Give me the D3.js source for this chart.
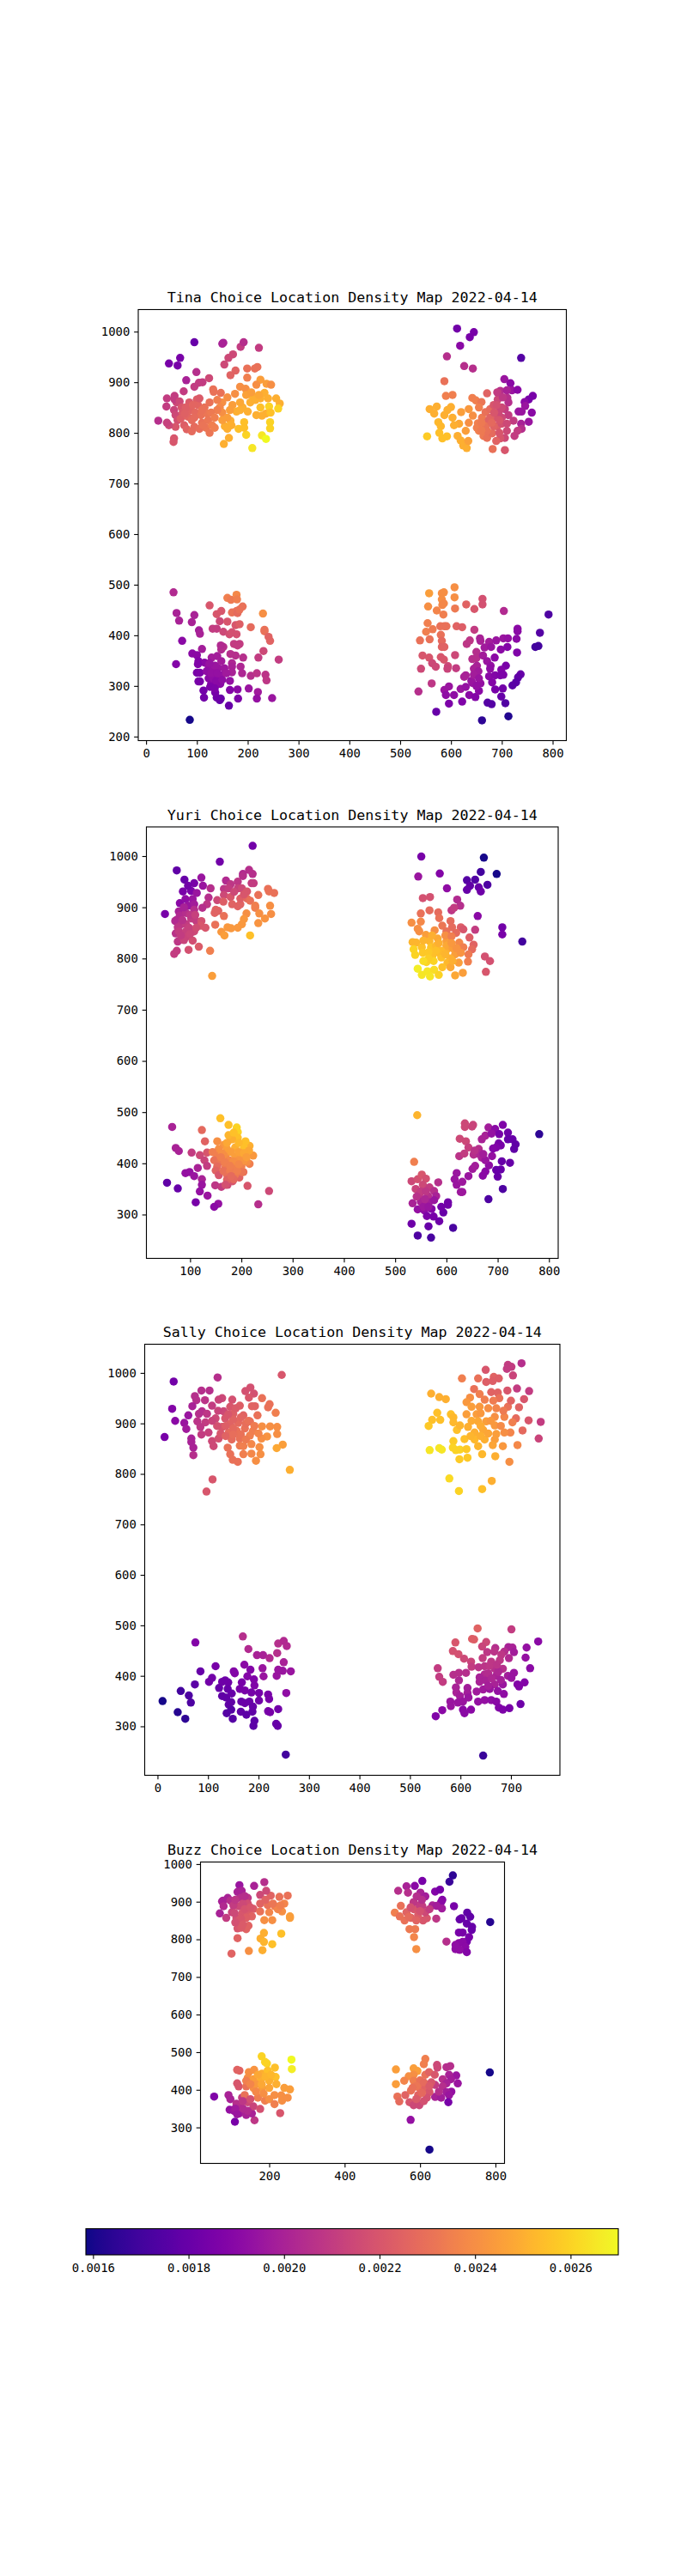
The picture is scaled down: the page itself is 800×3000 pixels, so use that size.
<!DOCTYPE html>
<html>
<head>
<meta charset="utf-8">
<script src="https://d3js.org/d3.v7.min.js"></script>
<style>
  body { margin: 0; background: #fff; }
  text { font-family: "DejaVu Sans Mono", monospace; fill: #000; }
</style>
</head>
<body>
<script>
// every point is [x, y, density * 1e4]
const tinaPoints = [
[24,824,20.5],[41,868,21],[40,852,21],[45,937,18.5],[62,933,18.5],[67,948,18.5],[95,979,18],[79,904,20],[99,920,20.5],[95,891,21],[104,899,21],[111,900,21],[124,908,21.5],[150,976,20],[152,978,20],[186,970,21],[192,979,20.5],[222,968,21],[171,955,21.5],[162,948,21.5],[154,935,21.5],[176,923,22.5],[166,914,22.5],[199,927,23],[214,927,23],[219,930,23],[199,909,23.5],[225,905,24.5],[217,895,24],[237,897,24.5],[246,895,24],[132,886,23],[133,881,23],[74,882,21],[56,873,21],
[55,845,21.3],[58,835,21.5],[62,825,21.7],[60,860,21.5],[56,866,21],[66,862,21.5],[70,850,22],[72,840,22.2],[68,828,22.3],[75,815,22.3],[58,812,22],[45,815,21.5],[41,820,21.2],[80,807,22.5],[85,860,22.2],[88,845,22.5],[82,832,22.6],[90,825,22.8],[95,812,22.8],[90,803,22.8],[100,866,22.3],[102,855,22.6],[97,840,22.7],[108,835,23],[110,820,23],[105,808,22.9],[115,850,23],[120,838,23.2],[122,825,23.2],[118,810,23.2],[125,800,23.2],[130,815,23.5],[135,810,23.5],[125,860,23],[105,868,22.2],[55,789,22],[54,782,22],
[147,879,23],[185,891,24],[196,887,24],[175,877,24],[210,872,25],[233,879,25],[256,868,25],[263,858,25],[260,848,26],[242,852,26],[217,835,25],[236,838,25],[228,834,25],[244,821,26],[244,809,26],[228,795,26.5],[236,788,27],[209,770,26.5],[197,796,26],[193,821,25.5],[193,810,25.5],[182,808,25.5],[163,790,25],[153,778,25],[155,813,25],[166,824,25],[150,860,24],[145,850,23.8],[150,840,24],[160,870,24],[170,855,24.5],[178,842,25],[190,850,25],[205,860,25],[215,865,25],[225,850,25.5],[160,830,24.5],[150,825,24.5],[140,845,23.5],
[78,850,22.3],[92,855,22.6],[110,845,23],[76,838,22.4],[95,830,22.8],[112,815,23.1],[128,840,23.3],[135,830,23.5],[140,865,23.5],[165,845,24.5],[185,860,24.8],[197,875,24.6],[225,868,25],[240,868,25],[245,840,25.5],[200,842,25],[168,815,25],[160,808,25],[185,845,25],[207,880,24.5],[222,875,24.8],
[612,1006,18.3],[645,999,18.5],[637,989,18.5],[618,972,19],[592,951,20.5],[626,932,20.5],[643,927,20.5],[738,948,17.5],[587,902,23],[705,906,19.5],[717,898,19],[720,884,19.5],[731,885,19],[761,873,18.5],[753,866,18.5],[745,861,19],[746,853,19.5],[733,842,19.5],[739,842,19.5],[759,840,19],[753,822,19.5],[738,818,20],[739,808,20.5],[731,804,21],[725,794,21],[723,824,21],
[590,873,23.5],[603,875,23.5],[671,878,22.5],[642,869,23.5],[649,864,23.5],[660,861,23.2],[655,850,23.5],[558,847,25],[572,852,25],[567,838,25],[600,851,25],[593,845,25],[587,835,25],[575,821,25.3],[580,813,25.3],[577,800,25.5],[553,793,25.8],[583,789,25.5],[592,793,25.5],[613,794,25],[619,785,25],[624,775,25],[631,770,25],[634,784,24.6],[620,841,24.5],[635,847,24.3],[643,834,24],[635,820,24],[603,830,25],[616,818,24.8],[629,804,24.5],[606,815,25],
[653,819,23.5],[661,830,23.3],[668,841,23],[677,847,22.8],[684,855,22],[692,866,21.5],[697,883,20.5],[691,880,21],[710,884,20],[711,869,20.5],[713,860,20.5],[706,847,21],[713,835,21],[700,830,21.5],[687,830,22],[674,824,22.5],[668,813,23],[655,804,23.5],[664,794,23.3],[671,790,23],[681,799,22.8],[691,813,22.3],[700,818,21.8],[710,818,21.5],[710,804,21.5],[706,790,21.5],[697,789,22],[689,784,22.5],[682,768,23],[706,766,22],[651,810,23.5],[671,804,23],[684,813,22.5],[694,841,21.5],[677,830,22.5],[685,840,22],[700,850,21.5],[660,820,23.3],[680,820,22.7],[695,800,22],[660,805,23.3],[695,825,22],[702,870,20.8],[690,855,21.8],
[54,485,20.3],[60,444,20],[65,429,20],[90,426,20],[95,440,20],[71,389,19],[59,343,18.8],[104,410,19.8],[106,403,20],[110,373,19.8],[91,364,19],[100,361,19],[103,349,18.8],[115,346,19],[102,343,18.7],[100,326,18.5],[106,326,18.6],[103,309,18.5],[106,309,18.5],[113,291,18.3],[114,277,18.3],[86,233,16],[163,261,18],[145,272,18],[147,275,18],[139,277,18.2],[136,287,18.4],
[123,340,19.3],[119,329,19.2],[123,315,19],[128,304,18.9],[132,298,18.7],[126,298,18.6],[142,304,18.9],[146,304,19],[139,318,19.2],[148,321,19.4],[142,335,19.5],[154,335,19.6],[148,349,19.8],[132,329,19.4],[132,315,19.2],[165,310,19.3],[165,292,18.8],[180,293,19],[181,275,18.6],[169,345,20.2],[169,338,20],[169,327,20],[186,338,20.2],[189,325,20.2],[191,356,20.5],[176,360,20.5],[166,363,20.5],[129,356,19.8],[140,359,19.8],[148,372,20.3],[152,377,20.5],[147,380,20.3],[173,383,21],[184,383,21],[180,380,21],[128,325,19.3],[138,310,19],[136,340,19.5],[150,312,19.2],[158,325,19.7],[125,345,19.4],[140,325,19.3],[135,295,18.6],
[202,295,19.5],[220,288,19.7],[218,275,19.3],[248,276,19.5],[206,320,20.5],[218,325,20.7],[235,322,20.7],[237,311,20.8],[221,356,21],[231,369,21.5],[261,352,21],[125,459,22],[139,442,22],[148,448,22],[145,428,21.5],[160,427,22],[131,413,21],[139,413,21],[152,407,21.5],[164,402,21.7],[169,406,21.8],[178,402,21.8],[176,420,22],[184,422,22.3],[206,416,22.8],[233,411,23],[233,408,23],[241,397,22.5],[244,389,22.5],[230,443,24],[160,474,23.5],[167,470,23.3],[178,480,23.8],[179,471,23.5],[169,445,23],[178,448,23],[180,444,22.8],[190,457,23],[184,451,23],
[557,483,24.5],[582,483,24],[586,485,24],[607,495,24],[607,475,24],[555,457,24],[582,471,24],[583,460,23.8],[586,463,23.8],[572,449,23.7],[585,441,23.5],[608,453,23.3],[630,461,22.5],[646,452,22],[662,472,21.8],[662,461,21.8],[704,448,20.3],[554,424,23.5],[551,407,23.5],[564,412,23.3],[579,418,23],[587,418,23],[591,418,23],[611,418,22.5],[622,416,22.3],[646,411,21],[580,401,23],[539,390,23],[558,392,23],[582,389,22.7],[582,377,22.5],[587,377,22.5],[544,360,22],[557,356,22],[580,357,22],[586,352,22],[608,361,21.5],[541,334,21.5],[563,345,21.5],[570,338,21.5],[594,339,21.5],[593,334,21.3],[610,335,21],[562,305,20.8],[536,289,20.5],
[631,383,20.8],[637,390,20.8],[657,394,20],[658,389,20],[675,387,19.8],[689,390,19.5],[703,394,19.5],[712,394,19.3],[729,393,19],[731,413,19],[731,408,19],[666,376,19.7],[679,377,19.5],[698,372,19],[711,377,18.8],[730,366,18.7],[650,367,20.5],[642,353,20.5],[650,355,20.5],[663,360,19.8],[671,349,19.5],[686,356,19],[678,340,19.3],[677,334,19.2],[708,340,18.5],[699,332,18.7],[626,318,20],[629,321,20],[645,334,20],[651,340,20],[654,329,19.7],[675,319,19],[687,321,18.8],[697,321,18.6],[703,322,18.6],[737,323,18],[732,317,17.8],[728,307,17.6],[721,301,17.6],[642,306,19.5],[658,305,19.3],[681,307,18.8],[687,293,18.5],[702,295,18.3],[587,292,19.5],[596,299,19.5],[619,294,19.5],[629,298,19.3],[590,282,19.2],[606,282,19.2],[636,282,19],[648,278,18.8],[655,290,19],[699,279,18],[596,265,18.6],[622,269,18.7],[672,267,17.5],[680,264,17.5],[707,266,17.4],[571,249,18],[661,232,16.5],[713,240,16.2],[775,405,17.5],[792,441,17.3],[766,377,17],[772,379,17],[640,310,19.5],[650,300,19.3],[645,322,19.8],[655,315,19.5]
];

const yuriPoints = [
[222,1020,18.3],[158,989,18.3],[74,972,17.8],[89,954,18],[122,958,19.5],[108,947,18.5],[125,942,19.5],[86,931,18.5],[102,932,18.6],[96,942,18.3],[113,928,19.5],[140,937,20.5],[51,887,18.5],[80,908,19],[91,916,19.2],[105,916,19.5],[96,903,19.5],[108,906,19.8],[136,919,20.5],[133,906,20.8],[124,899,20.5],[153,914,21.5],[78,892,20],[73,875,20.5],[80,884,20.3],[92,889,20.5],[108,895,20.5],[71,873,20.3],[83,867,20.8],[102,878,21],[112,873,21],[92,867,21],[76,861,20.8],[72,849,20.6],[78,853,21],[92,853,21.2],[108,853,21.5],[122,873,21.8],[121,864,22],[130,860,22],[92,842,21.3],[76,833,20.8],[88,836,21.3],[105,835,21.7],[117,823,22.2],[97,817,21.8],[74,815,21],[69,809,21],[149,866,23],[150,895,22.5],[155,893,22.5],[148,889,22.5],[166,883,23],[139,815,23.5],[143,766,24.5],[85,875,20.6],[98,860,21.2],[100,885,20.8],[88,900,20],[110,885,21.2],[112,860,21.6],[82,845,21],[100,848,21.4],
[170,952,20.3],[179,945,20.8],[166,936,20.8],[175,937,21],[193,950,20.8],[193,937,21.2],[201,937,21.5],[215,973,20.5],[203,965,20.3],[203,961,20.5],[222,965,20.5],[220,947,21],[224,947,21],[211,931,22],[166,924,21.5],[179,920,22],[165,911,22.3],[182,906,22.5],[193,902,22.5],[198,906,22.5],[198,917,22.3],[211,917,22.7],[217,913,23],[227,903,23.5],[227,899,23.5],[233,924,23],[252,936,23],[254,931,23],[264,928,23],[256,903,24],[258,887,24],[235,888,24],[210,888,24],[246,878,24.2],[233,869,24.2],[205,877,24.3],[201,867,24.3],[193,860,24.3],[180,859,24.3],[173,861,24.3],[161,852,24.3],[167,845,24.5],[217,845,25.5],[205,925,22],[186,930,21.5],
[551,999,18.5],[673,997,16],[545,960,19.5],[587,966,18.8],[667,969,17],[698,965,16],[640,953,17.5],[656,954,17.4],[680,944,17.3],[601,937,19.2],[646,942,17.8],[640,934,18],[663,939,18],[667,931,18.2],[554,918,21.8],[568,920,21.8],[621,915,20.3],[627,903,20.5],[610,894,20.8],[615,899,21],[661,883,19],[709,861,18.3],[709,847,18.5],[748,833,17],[550,888,23],[567,894,22.8],[584,890,22.8],[586,879,23],[550,872,23.8],[532,870,24],[544,858,24],[547,853,24],[577,855,24],[560,846,24.5],[592,864,23.2],[608,873,22.8],[611,861,22.8],[628,861,22.3],[633,857,22],[656,856,21],[645,841,22.3],[600,853,23],[619,850,22.8],[534,832,25.2],[541,831,25.2],[567,834,25.2],[583,839,24.8],[600,834,24.5],[625,831,23.8],[653,827,22.5],[650,818,22.8],[643,808,23.3],[633,822,23.5],[675,804,21.8],[685,795,21.8],[677,774,22],[642,794,23.5],[632,772,24.5],[617,767,24.8],[624,792,24.5],[617,808,24.5],[628,811,24.2],
[536,818,26],[539,807,26],[552,822,25.5],[554,811,25.7],[570,822,25.6],[573,806,25.5],[586,811,25.3],[600,817,25],[608,800,25],[602,792,25.3],[592,783,25.5],[608,783,24.8],[561,793,26],[544,780,26.7],[552,768,26.5],[563,775,26.5],[568,765,26.5],[576,778,26.3],[585,768,26],[555,835,25.2],[565,812,25.7],[580,825,25.3],[590,802,25.5],[575,795,26],[600,825,24.8],[612,820,24.5],[590,815,25.3],[580,815,25.5],[565,800,25.9],[555,795,26.3],[598,845,24],[610,843,23.5],[585,830,25],[572,845,25],[610,830,24.3],[620,820,24.2],[598,808,25.2],[612,795,25],
[65,471,20],[72,430,20],[78,424,20],[103,421,21],[123,465,22.7],[129,443,22.5],[133,421,22],[119,416,21.5],[128,406,21.3],[133,395,21],[115,391,20],[91,381,19.3],[99,383,19.3],[108,375,19.5],[123,369,20],[123,358,19.5],[119,345,19.3],[134,337,19.5],[111,324,18.5],[155,321,19.3],[147,315,19],[55,362,17.8],[76,351,18],[233,320,20.5],[254,346,21.5],[212,356,22],[149,357,20.8],[161,354,21],[173,358,21.5],[183,365,22],[196,372,22.5],[204,383,23],[216,399,23.5],[223,415,24.3],[216,434,25],[208,443,25.5],[191,470,26],[193,461,26],[175,475,25.5],[159,488,25.5],
[153,443,24],[166,436,24.3],[179,447,25],[193,450,25.5],[205,431,25.5],[188,431,25],[172,428,24.5],[156,428,24],[144,422,23.5],[153,414,23.5],[169,414,24],[188,413,24.5],[201,414,24.5],[147,406,23],[160,403,23.2],[176,406,23.8],[195,406,24.2],[211,403,24],[153,394,22.8],[169,392,23.3],[185,394,23.6],[200,394,23.6],[150,386,22.5],[156,377,22],[172,378,23],[188,378,23.3],[201,383,23.2],[172,368,22.5],[185,369,22.7],[169,358,21.8],[182,447,25],[175,455,25.2],[185,460,25.5],[195,440,25.3],[215,425,24.8],[162,420,24],[180,422,24.5],[195,422,24.6],[205,405,24.2],[165,385,23],[178,385,23.4],[192,385,23.5],[160,412,23.5],[168,402,23.5],[185,404,24],[178,395,23.5],[195,398,23.8],[180,375,22.8],[172,440,24.8],[205,420,24.8],[210,412,24.5],
[543,494,25.2],[537,403,23.5],[584,363,20.5],[532,365,21.5],[544,369,21.8],[552,378,22],[560,370,21.8],[540,350,21.3],[554,358,21.5],[567,353,21],[576,346,20.5],[547,339,20.8],[564,336,20.5],[580,336,20],[534,322,20],[550,325,20],[566,324,19.8],[576,328,19.5],[544,310,19.3],[557,308,19.2],[571,311,18.8],[562,297,18.6],[575,296,18.5],[532,282,18.2],[565,277,18],[586,287,18.2],[544,259,17.3],[570,255,17.2],[613,274,17.2],[594,304,18],[590,315,18.3],[603,324,18.3],[603,319,18.3],[550,345,21],[560,345,20.8],[542,335,20.6],[555,315,19.6],[565,315,19.5],[558,330,20.2],
[620,381,19.5],[616,369,19.5],[620,358,19.5],[631,364,19.6],[628,344,19.6],[631,344,19.6],[643,375,19.5],[651,389,19.7],[656,395,19.8],[671,376,19],[676,384,19],[683,396,19.2],[700,374,18],[697,387,18],[706,388,18],[708,404,18],[724,401,18],[710,350,17.3],[682,330,17.3],[781,457,16.5],[625,414,20.7],[626,448,21.5],[638,443,21.5],[643,431,21.2],[635,419,21],[653,417,20.5],[663,428,20.5],[659,419,20.5],[669,411,20],[676,406,19.5],[689,414,19.3],[636,478,21.5],[636,471,21.5],[650,472,21.3],[652,475,21.3],[669,447,20],[676,454,20],[682,470,19.8],[695,467,19],[710,475,18.7],[703,457,18.5],[720,460,18.2],[720,447,18],[729,447,18],[735,437,17.8],[732,428,17.8],[702,439,18.5],[706,435,18.5],[697,431,18.7],[691,429,18.8],[665,420,20.2],[672,418,19.8],[655,425,20.6],[688,458,19.3]
];

const sallyPoints = [
[32,983,18.3],[119,991,20.5],[246,996,22],[87,965,20.5],[103,965,20.5],[74,954,20.5],[77,946,20.5],[94,946,20.7],[29,929,18.8],[69,934,20],[35,905,19],[61,916,19.5],[53,901,19.5],[57,889,19.7],[14,873,18.5],[67,870,20],[67,863,20],[71,852,20],[71,837,20.5],[108,865,21.5],[111,855,21.5],[97,765,22],[109,789,22],[262,808,25],[248,858,24.5],[236,851,24.8],[237,893,24],[223,894,24],[237,879,24],[207,894,24],[217,874,24.2],[206,870,24],[234,921,23.5],[222,938,23],[219,932,23],[207,950,23],[193,934,22.5],[187,934,22.5],[198,916,23],[174,964,21.8],[184,971,21.8],[191,959,21.8],[181,951,22],[148,947,21.8],[128,950,21.5],[121,947,21.3],[108,935,21],[88,924,20.5],[82,919,20.5],[98,919,20.8],[79,904,20.7],[95,902,21],[85,893,20.8],[87,878,21],[101,882,21.2],[121,870,21.8],[115,910,21.5],[131,924,21.5],[144,933,22],[163,935,22.3],[134,910,22],[150,919,22.3],[170,916,22.5],[183,904,23],[128,893,22],[144,899,22.5],[160,901,22.7],[141,882,22.8],[157,885,23],[173,890,23],[189,885,23.5],[147,868,22.8],[163,870,23],[183,876,23.5],[139,852,23],[144,839,23],[149,828,23],[159,824,23],[170,839,23.5],[163,856,23.3],[186,859,23.8],[186,840,23.8],[202,853,24],[204,839,24],[195,826,24],
[118,895,21.8],[125,880,22],[135,895,22.3],[150,908,22.5],[165,912,22.6],[175,900,22.9],[150,890,22.7],[165,878,23],[175,868,23.3],[135,875,22.5],[108,905,21.3],[150,878,22.9],[170,855,23.5],[180,905,23],[192,895,23.4],[200,880,23.7],[120,925,21.3],[140,918,22],[155,930,22.2],
[721,1019,20.5],[694,1016,21],[701,1012,21],[692,1008,21],[650,1006,22],[704,995,21.3],[603,989,23.5],[635,989,23],[666,992,22.5],[676,989,22.3],[651,982,22.3],[664,984,22.3],[627,968,23],[712,969,21],[736,964,21],[693,965,22],[661,962,22.5],[674,961,22.5],[542,959,25],[558,952,25],[571,948,25],[619,951,24],[612,942,24.3],[638,958,23.5],[648,947,23.5],[677,950,23],[726,948,22],[554,921,25.5],[581,918,25.5],[586,912,25.3],[544,907,25.5],[560,907,25.5],[537,895,25.7],[586,902,25.3],[593,887,25.5],[599,896,25.2],[615,893,25],[612,918,24.5],[622,933,24.5],[638,933,24.3],[632,918,24.5],[655,930,24],[671,930,23.7],[694,933,23],[716,932,22.5],[710,910,22.8],[735,906,22],[759,903,21],[755,870,21.3],[723,886,22.7],[699,882,23.7],[687,882,24],[668,913,24],[687,913,23.7],[703,902,23.5],[651,904,24.5],[635,904,24.8],[668,896,24.3],[645,887,24.8],[628,882,25],[671,879,24.5],[648,868,25],[668,868,24.5],[628,868,25.3],[635,855,25.2],[608,869,25.5],[586,865,25.8],[585,852,26],[591,847,26],[539,847,26.5],[558,851,26.5],[563,848,26.5],[599,848,26],[612,849,25.7],[598,829,25.8],[614,832,25.7],[643,839,25.3],[669,835,25],[664,857,24.7],[684,855,24.3],[713,857,23.8],[697,824,24],[578,791,26.2],[597,766,26],[643,770,25.5],[662,786,25],[622,905,24.9],[640,895,24.9],[655,880,24.7],[660,905,24.3],[680,895,23.9],[640,875,25],[620,875,25.2],[640,920,24.3],[665,945,23.4],[685,925,23.3],[700,945,22.5],
[75,466,18.8],[10,350,16],[40,328,16.3],[55,315,16.5],[46,370,17],[62,361,17.3],[66,347,17.3],[74,383,17.7],[85,409,18],[102,388,18.3],[108,396,18.3],[115,419,18.5],[122,376,18],[128,388,18.2],[134,391,18.2],[140,387,18.2],[139,374,18],[128,360,17.8],[136,357,17.8],[147,365,18],[141,343,17.8],[146,348,17.8],[137,326,17.5],[146,333,17.5],[149,315,17.5],[166,349,18],[173,346,18.1],[182,349,18.1],[165,329,17.8],[176,323,17.7],[188,329,17.8],[189,339,18],[192,311,17.7],[190,301,17.7],[235,305,18],[238,301,18],[239,334,18.3],[223,328,18.5],[219,330,18.5],[201,351,18.3],[201,366,18.4],[219,363,18.5],[221,354,18.5],[186,367,18.4],[167,387,18.5],[163,374,18.5],[173,371,18.5],[192,381,18.7],[191,393,18.7],[178,399,18.8],[184,412,18.8],[172,422,19],[153,405,18.8],[151,409,18.8],[208,415,19.5],[210,399,19.5],[236,400,19.5],[248,410,19.5],[264,409,19.5],[239,412,19.5],[250,427,20],[255,366,19.2],[209,441,20],[197,441,20],[222,435,20.3],[237,445,20.5],[180,453,20.3],[169,478,20.5],[239,464,20.5],[250,469,20.3],[256,459,20.3],[254,244,17],
[634,494,22.5],[701,492,21],[623,473,22.3],[627,472,22.3],[590,466,22],[585,449,21.8],[596,443,21.8],[607,434,21.5],[651,467,21.5],[643,458,21.3],[621,428,21.3],[622,418,21],[644,435,21],[653,447,20.8],[669,455,20.5],[667,448,20.7],[695,457,20],[703,456,20],[687,448,20.5],[706,447,19.8],[696,435,20.3],[681,442,20.8],[731,456,19.3],[729,436,19.3],[754,468,19],[738,415,19],[555,415,21],[558,398,21],[565,388,21],[586,402,20.5],[597,406,20.5],[611,406,20.5],[636,417,20.7],[648,419,20.7],[661,428,20.8],[678,431,20.8],[684,414,20.5],[668,414,20.5],[648,403,20.3],[638,397,20],[671,400,20],[694,400,19.8],[706,406,19.5],[701,396,19.5],[638,388,20],[651,391,20],[668,383,20],[684,383,19.5],[591,377,20],[597,391,20.2],[592,367,20],[599,360,19.8],[614,376,19.8],[614,366,19.8],[632,369,19.7],[645,373,19.7],[658,374,19.5],[674,370,19.3],[686,364,19.2],[713,383,18.8],[716,379,18.8],[727,387,18.8],[580,349,19.5],[581,340,19.5],[595,347,19.5],[605,349,19.5],[616,357,19.5],[635,349,19.3],[648,352,19.3],[661,352,19.2],[671,349,19],[676,337,18.8],[684,333,18.6],[697,336,18.5],[719,344,18.2],[564,332,19],[551,320,18.7],[605,333,19],[608,326,19],[621,333,19],[645,242,16.8],[655,405,20.4],[662,395,20.2],[675,408,20.2],[658,420,20.8],[672,422,20.7],[680,392,19.9],[655,380,19.9]
];

const buzzPoints = [
[121,944,19.5],[187,952,20.5],[160,942,20],[69,869,20],[75,901,20],[90,910,20],[78,903,20],[79,888,20.3],[97,903,20.5],[116,926,20],[127,929,20],[124,910,20.5],[143,910,20.8],[86,857,21],[101,872,21.3],[120,888,21.5],[143,895,21.7],[113,857,21.7],[128,869,22],[143,872,22.2],[158,881,22.2],[154,861,22.5],[120,850,22],[139,857,22.3],[116,829,22],[139,827,22.5],[145,836,22.5],[126,831,22.2],[116,803,22.5],[100,762,22.5],[146,769,24],[182,771,25],[177,802,25],[186,793,25.2],[186,817,25],[208,787,25.5],[232,815,25.5],[187,851,24],[208,851,24],[255,861,24.5],[255,857,24.5],[234,874,24],[200,872,23.7],[176,874,23],[176,895,22.5],[196,891,23],[215,888,23.5],[223,880,23.7],[240,895,23.7],[227,913,23],[249,916,23],[204,916,22.5],[176,918,21.5],[192,929,21.5],[105,890,21],[110,905,20.8],[130,895,21.5],[135,880,21.9],[150,885,22],[108,870,21.5],[125,855,22],[130,840,22.2],[110,845,21.8],[135,915,20.5],[210,895,23.2],[230,890,23.5],[190,905,22.5],
[687,970,16.5],[678,953,16.8],[606,955,18.5],[564,941,20],[586,942,19],[542,929,20.5],[568,924,20.5],[601,924,20],[614,914,19.8],[640,927,18.8],[653,932,18.5],[659,905,18.8],[656,899,19],[690,888,18.5],[658,882,19.7],[633,890,20],[644,889,19.8],[643,855,20.8],[618,856,22],[608,850,22],[670,794,20.5],[725,871,17.8],[733,860,17.8],[705,853,18],[710,856,18],[724,842,18],[738,833,18],[737,825,18],[786,846,16.3],[703,818,18.5],[713,818,18.5],[730,806,18.5],[724,794,18.5],[703,790,19],[713,793,19],[720,780,19],[694,774,19.2],[705,772,19.2],[724,766,18.8],[694,785,19.2],[533,871,23.5],[549,889,23],[546,861,23],[559,850,23],[572,827,23.3],[587,827,23.3],[584,806,23.7],[590,774,24],[564,872,22.5],[576,857,22.5],[583,880,22],[595,865,22.2],[599,891,21],[583,899,20.8],[591,914,20.5],[606,888,21],[614,872,21.5],[625,880,21],[570,860,22.8],[590,850,22.5],[600,875,21.8],[575,885,21.8],[605,905,20.5],
[54,382,18.7],[109,315,18.5],[161,319,20.8],[92,386,20],[97,375,20],[95,347,19.3],[107,344,19.5],[120,337,19.8],[154,337,20],[139,333,20],[113,363,20.5],[128,379,21],[143,367,21.5],[158,356,21.3],[176,349,21.8],[124,356,20.5],[143,344,20.3],[115,453,22.5],[121,451,22.5],[115,417,22],[119,409,22],[139,409,23],[135,386,23],[146,447,24],[160,453,24.2],[143,432,24],[158,428,24.5],[139,424,23.5],[158,405,24],[177,424,25],[181,443,25],[180,489,26],[189,474,26],[194,470,26],[196,451,25.5],[215,459,25.5],[217,434,25.5],[219,415,25],[200,424,25],[200,405,24.7],[181,405,24.5],[170,379,23.5],[189,371,23.5],[200,375,24],[214,386,24],[214,362,23.5],[234,371,24],[232,385,24],[240,405,24.5],[255,401,24.5],[249,379,24],[229,338,22],[259,480,27],[260,455,26.7],[165,415,24.3],[150,415,23.7],[165,395,23.8],[185,390,24],[130,350,20.3],[110,350,19.7],[115,335,19.5],[130,370,20.8],[150,375,21.8],[190,435,25.2],[205,440,25.3],[170,440,24.8],[180,415,24.8],
[536,454,24.5],[536,415,24.5],[540,382,23],[545,369,22.8],[614,482,23.5],[610,468,23.5],[583,457,24.5],[593,450,24.5],[583,440,24],[570,436,24],[558,424,23.7],[583,424,23.5],[614,440,23],[624,447,22.5],[639,440,22],[645,466,21.5],[646,459,21.5],[670,460,20.5],[680,463,20.5],[696,438,19.5],[677,440,20],[700,417,19.5],[682,428,19.8],[660,428,20.5],[640,413,21],[670,417,20],[660,409,20.5],[683,395,19.3],[670,394,19.8],[640,381,20],[656,379,19.8],[677,386,19.5],[675,367,18.5],[561,386,22.5],[576,398,23],[598,405,23],[614,405,22.5],[625,394,22],[618,379,21.8],[595,386,22.5],[572,367,22],[583,359,21.5],[598,359,21.5],[575,320,19.3],[625,241,16],[785,446,16],[600,425,23],[590,410,23.2],[610,420,22.8],[630,420,22],[580,405,23],[605,392,22.7],[590,375,22.2],[610,370,21.8],[625,410,22.2],[650,395,20.5]
];

const tinaXTicks = [0, 100, 200, 300, 400, 500, 600, 700, 800];
const sallyXTicks = [0, 100, 200, 300, 400, 500, 600, 700];
const yuriXTicks = [100, 200, 300, 400, 500, 600, 700, 800];
const buzzXTicks = [200, 400, 600, 800];
const tinaYTicks = [200, 300, 400, 500, 600, 700, 800, 900, 1000];
const yTicks = [300, 400, 500, 600, 700, 800, 900, 1000];
const colorTicks = [0.0016, 0.0018, 0.0020, 0.0022, 0.0024, 0.0026];
const colorRange = [0.001585, 0.0027];

const w = 800;
const h = 3000;
const tickLen = 4.86;
const tickPad = 4.86;

const panels = [
  {name: "Tina", pts: tinaPoints, left: 161, right: 659.5, top: 360.5, bottom: 862.5, xd: [-15.4, 827], yd: [192, 1043.6], xt: tinaXTicks, yt: tinaYTicks},
  {name: "Yuri", pts: yuriPoints, left: 170.5, right: 650, top: 963, bottom: 1465.5, xd: [14.8, 818], yd: [214.4, 1057], xt: yuriXTicks, yt: yTicks},
  {name: "Sally", pts: sallyPoints, left: 168.5, right: 652, top: 1565.5, bottom: 2067.5, xd: [-25.4, 797], yd: [203, 1056.8], xt: sallyXTicks, yt: yTicks},
  {name: "Buzz", pts: buzzPoints, left: 233.5, right: 587.5, top: 2168.5, bottom: 2519.5, xd: [17.8, 824], yd: [204.3, 1005.5], xt: buzzXTicks, yt: yTicks}
];

const color = d3.scaleSequential(d3.interpolatePlasma).domain(colorRange);

const svg = d3.select("body")
  .append("svg")
  .attr("width", w)
  .attr("height", h)
  .style("display", "block");

function styleAxis(g) {
  g.selectAll("text").attr("font-size", "13.9px");
  g.selectAll("line").attr("stroke", "#000").attr("stroke-width", 1.11);
  g.select(".domain").remove();
}

panels.forEach(function(p) {
  const xScale = d3.scaleLinear().domain(p.xd).range([p.left, p.right]);
  const yScale = d3.scaleLinear().domain(p.yd).range([p.bottom, p.top]);

  svg.append("g")
    .selectAll("circle")
    .data(p.pts)
    .enter()
    .append("circle")
    .attr("cx", (d) => xScale(d[0]))
    .attr("cy", (d) => yScale(d[1]))
    .attr("r", 4.75)
    .attr("fill", (d) => color(d[2] * 1e-4));

  svg.append("rect")
    .attr("x", p.left)
    .attr("y", p.top)
    .attr("width", p.right - p.left)
    .attr("height", p.bottom - p.top)
    .attr("fill", "none")
    .attr("stroke", "#000")
    .attr("stroke-width", 1.11);

  svg.append("g")
    .attr("transform", "translate(0," + p.bottom + ")")
    .call(d3.axisBottom(xScale).tickValues(p.xt).tickFormat(d3.format("d")).tickSize(tickLen).tickPadding(tickPad))
    .call(styleAxis);

  svg.append("g")
    .attr("transform", "translate(" + p.left + ",0)")
    .call(d3.axisLeft(yScale).tickValues(p.yt).tickFormat(d3.format("d")).tickSize(tickLen).tickPadding(tickPad))
    .call(styleAxis);

  svg.append("text")
    .text(p.name + " Choice Location Density Map 2022-04-14")
    .attr("x", (p.left + p.right) / 2)
    .attr("y", p.top - 8.3)
    .attr("text-anchor", "middle")
    .attr("font-size", "16.67px");
});

// colorbar
const cbLeft = 100;
const cbRight = 720;
const cbTop = 2595.5;
const cbBottom = 2626;

const cbScale = d3.scaleLinear().domain(colorRange).range([cbLeft, cbRight]);

const grad = svg.append("defs")
  .append("linearGradient")
  .attr("id", "plasma");

grad.selectAll("stop")
  .data(d3.range(0, 1.001, 0.02))
  .enter()
  .append("stop")
  .attr("offset", (d) => d * 100 + "%")
  .attr("stop-color", (d) => d3.interpolatePlasma(d));

svg.append("rect")
  .attr("x", cbLeft)
  .attr("y", cbTop)
  .attr("width", cbRight - cbLeft)
  .attr("height", cbBottom - cbTop)
  .attr("fill", "url(#plasma)")
  .attr("stroke", "#000")
  .attr("stroke-width", 1.11);

svg.append("g")
  .attr("transform", "translate(0," + cbBottom + ")")
  .call(d3.axisBottom(cbScale).tickValues(colorTicks).tickFormat(d3.format(".4f")).tickSize(tickLen).tickPadding(tickPad))
  .call(styleAxis);
</script>
</body>
</html>
